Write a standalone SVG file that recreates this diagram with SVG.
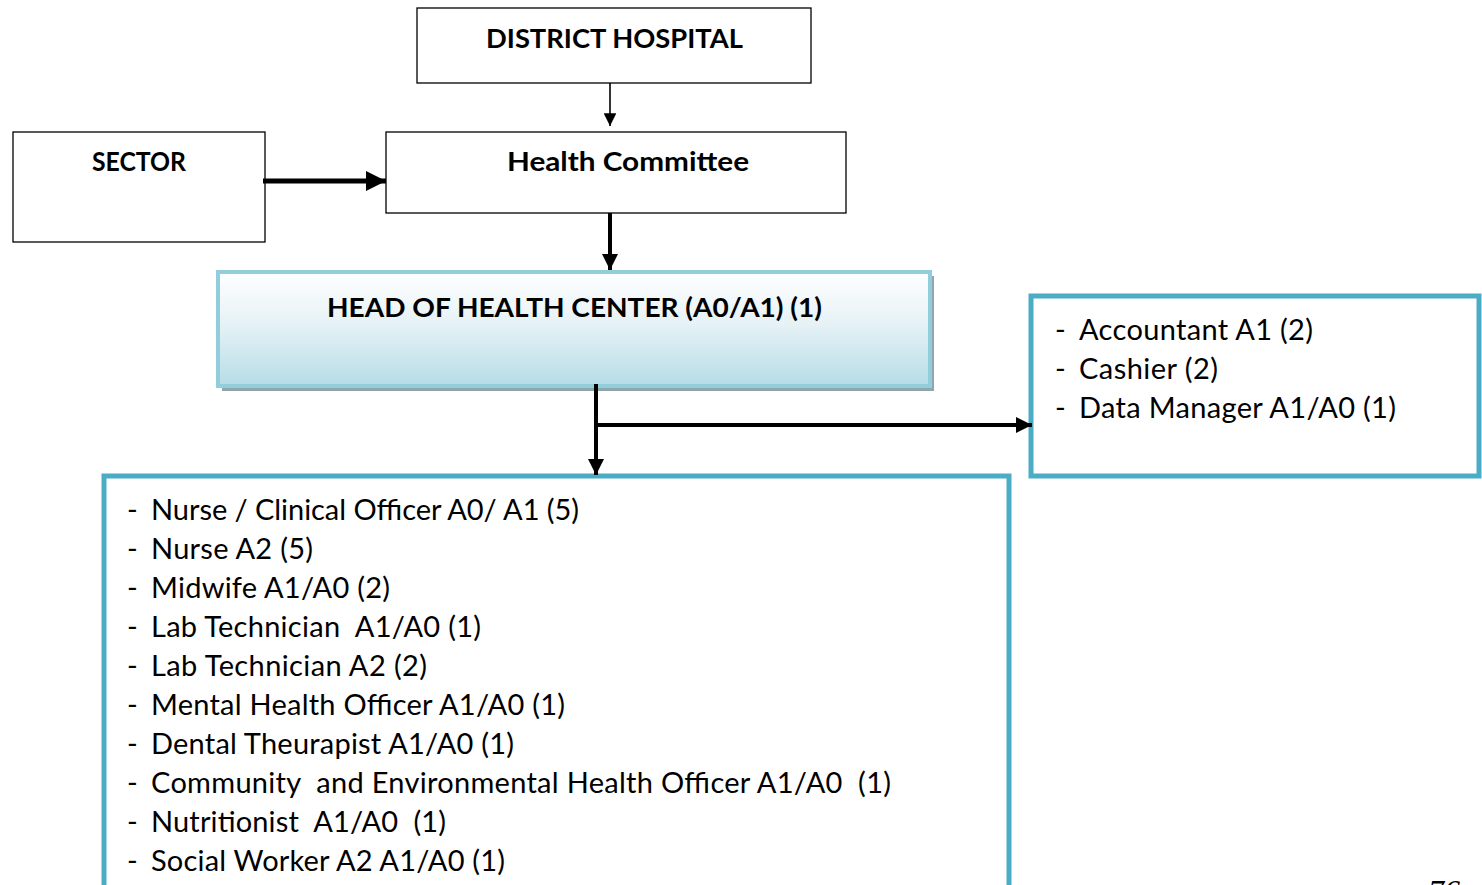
<svg xmlns="http://www.w3.org/2000/svg" width="1482" height="885" viewBox="0 0 1482 885">
<style>
.box{fill:#fff;stroke:#000;stroke-width:1.3}
.title{font-family:Lato,"Open Sans","Liberation Sans",sans-serif;font-weight:bold;font-size:27px;fill:#000;text-anchor:middle}
.item{font-family:Lato,"Open Sans","Liberation Sans",sans-serif;font-size:29px;fill:#000}
.blue{fill:#fff;stroke:#4BACC6;stroke-width:5}
.conn{stroke:#000;fill:none}
</style>
<defs>
<linearGradient id="g" x1="0" y1="0" x2="0" y2="1">
<stop offset="0" stop-color="#ffffff"/>
<stop offset="0.45" stop-color="#e6f2f6"/>
<stop offset="1" stop-color="#b6dce7"/>
</linearGradient>
<marker id="ah" viewBox="0 0 10 10" refX="10" refY="5" markerWidth="4" markerHeight="4" orient="auto" markerUnits="strokeWidth"><path d="M0,0 L10,5 L0,10 z" fill="#000"/></marker>
<marker id="ahs" viewBox="0 0 10 10" refX="10" refY="5" markerWidth="8" markerHeight="8" orient="auto" markerUnits="strokeWidth"><path d="M0,0 L10,5 L0,10 z" fill="#000"/></marker>
</defs>
<g id="district-hospital">
<rect class="box" x="417" y="8" width="394" height="75"/>
<text class="title" x="614.5" y="48" textLength="257" lengthAdjust="spacingAndGlyphs">DISTRICT HOSPITAL</text>
</g>
<g id="sector">
<rect class="box" x="13" y="132" width="252" height="110"/>
<text class="title" x="139" y="171" textLength="94" lengthAdjust="spacingAndGlyphs">SECTOR</text>
</g>
<g id="health-committee">
<rect class="box" x="386" y="132" width="460" height="81"/>
<text class="title" x="628" y="171" textLength="242" lengthAdjust="spacingAndGlyphs">Health Committee</text>
</g>
<g id="head">
<rect x="222" y="276" width="712" height="115" fill="#8fa6ad"/>
<rect x="218" y="272" width="712" height="114" fill="url(#g)" stroke="#92CDDC" stroke-width="4"/>
<text class="title" x="574.5" y="317" textLength="495" lengthAdjust="spacingAndGlyphs">HEAD OF HEALTH CENTER (A0/A1) (1)</text>
</g>
<g id="admin">
<rect class="blue" x="1031" y="296" width="448" height="180"/>
<text class="item" x="1055" y="340">-</text><text class="item" x="1079" y="340" textLength="234">Accountant A1 (2)</text>
<text class="item" x="1055" y="379">-</text><text class="item" x="1079" y="379" textLength="139">Cashier (2)</text>
<text class="item" x="1055" y="418">-</text><text class="item" x="1079" y="418" textLength="317">Data Manager A1/A0 (1)</text>
</g>
<g id="clinical">
<rect class="blue" x="104" y="476" width="905" height="420"/>
<text class="item" x="127" y="520">-</text><text class="item" x="151" y="520" textLength="428">Nurse / Clinical Officer A0/ A1 (5)</text>
<text class="item" x="127" y="559">-</text><text class="item" x="151" y="559" textLength="162">Nurse A2 (5)</text>
<text class="item" x="127" y="598">-</text><text class="item" x="151" y="598" textLength="239">Midwife A1/A0 (2)</text>
<text class="item" x="127" y="637">-</text><text class="item" x="151" y="637" xml:space="preserve" textLength="330">Lab Technician  A1/A0 (1)</text>
<text class="item" x="127" y="676">-</text><text class="item" x="151" y="676" textLength="276">Lab Technician A2 (2)</text>
<text class="item" x="127" y="715">-</text><text class="item" x="151" y="715" textLength="414">Mental Health Officer A1/A0 (1)</text>
<text class="item" x="127" y="754">-</text><text class="item" x="151" y="754" textLength="363">Dental Theurapist A1/A0 (1)</text>
<text class="item" x="127" y="793">-</text><text class="item" x="151" y="793" xml:space="preserve" textLength="740">Community  and Environmental Health Officer A1/A0  (1)</text>
<text class="item" x="127" y="832">-</text><text class="item" x="151" y="832" xml:space="preserve" textLength="295">Nutritionist  A1/A0  (1)</text>
<text class="item" x="127" y="871">-</text><text class="item" x="151" y="871" textLength="354">Social Worker A2 A1/A0 (1)</text>
</g>
<text x="1428" y="902" font-family="'Liberation Serif',serif" font-style="italic" font-size="32">76</text>
<g id="connectors">
<line class="conn" x1="610" y1="83" x2="610" y2="126" stroke-width="1.6" marker-end="url(#ahs)"/>
<line class="conn" x1="263" y1="181" x2="386" y2="181" stroke-width="5" marker-end="url(#ah)"/>
<line class="conn" x1="610" y1="213" x2="610" y2="270" stroke-width="4" marker-end="url(#ah)"/>
<line class="conn" x1="596" y1="384" x2="596" y2="475" stroke-width="4" marker-end="url(#ah)"/>
<line class="conn" x1="594" y1="425" x2="1032" y2="425" stroke-width="4" marker-end="url(#ah)"/>
</g>
</svg>
